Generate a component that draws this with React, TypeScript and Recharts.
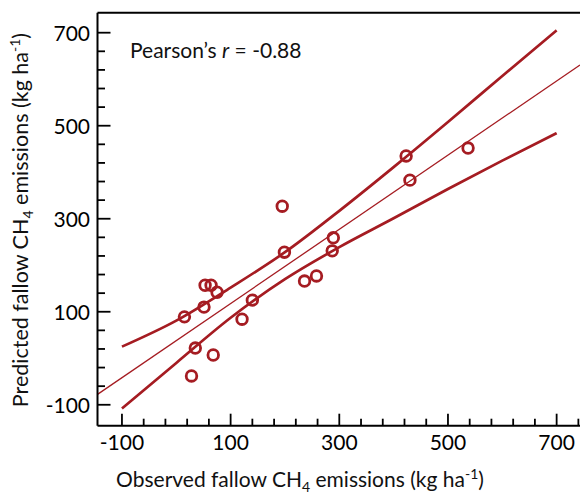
import React from "react";
import {
  ComposedChart,
  Scatter,
  Line,
  XAxis,
  YAxis,
  ReferenceLine,
} from "recharts";

// observed vs predicted fallow CH4 emissions
const observed = [15, 35, 28, 51, 53, 64, 68, 75, 121, 140, 195, 199, 236, 258, 287, 289, 423, 430, 537];
const predicted = [89, 22, -38, 110, 157, 157, 7, 142, 84, 125, 327, 228, 166, 177, 231, 259, 435, 383, 452];

// confidence band
const bandX = [-100, 0, 100, 200, 300, 400, 500, 600, 700];
const bandUpper = [25, 81, 152, 228, 317, 411, 508, 607, 705];
const bandLower = [-108, -10, 87, 170, 239, 301, 364, 425, 484];

// regression line at the plot edges
const fitX = [-145, 743];
const fitY = [-77.6, 630.5];

const majorTicks = [-100, 100, 300, 500, 700];
const xTicks = [-100, -60, -20, 20, 60, 100, 140, 180, 220, 260, 300, 340, 380, 420, 460, 500, 540, 580, 620, 660, 700, 740];
const yTicks = [-100, -60, -20, 20, 60, 100, 140, 180, 220, 260, 300, 340, 380, 420, 460, 500, 540, 580, 620, 660, 700];

const points = observed.map((x, i) => ({ x, y: predicted[i] }));
const upper = bandX.map((x, i) => ({ x, y: bandUpper[i] }));
const lower = bandX.map((x, i) => ({ x, y: bandLower[i] }));
const fit = fitX.map((x, i) => ({ x, y: fitY[i] }));

const RED = "#a51c22";
const FONT = "Lato, 'Open Sans', sans-serif";

const XTick = (props: any) => {
  const { x, y, payload } = props;
  const major = majorTicks.includes(payload.value);
  return (
    <g>
      <line x1={x} x2={x} y1={y} y2={y - (major ? 12 : 7)} stroke="#000" strokeWidth={1.8} />
      {major && (
        <text x={x} y={y + 24.5} textAnchor="middle" fontSize={21} fontFamily={FONT} fill="#000">
          {payload.value}
        </text>
      )}
    </g>
  );
};

const YTick = (props: any) => {
  const { x, y, payload } = props;
  const major = majorTicks.includes(payload.value);
  return (
    <g>
      <line x1={x} x2={x + (major ? 13 : 7.5)} y1={y} y2={y} stroke="#000" strokeWidth={1.8} />
      {major && (
        <text x={x - 7.5} y={y + 8} textAnchor="end" fontSize={21} fontFamily={FONT} fill="#000">
          {payload.value}
        </text>
      )}
    </g>
  );
};

const XTitle = () => (
  <text x={300} y={487} textAnchor="middle" fontSize={21} fontFamily={FONT} fill="#111">
    Observed fallow CH<tspan dy={5} fontSize={14}>4</tspan>
    <tspan dy={-5}> emissions (kg ha</tspan>
    <tspan dy={-8} fontSize={14}>-1</tspan>
    <tspan dy={8}>)</tspan>
  </text>
);

const YTitle = () => (
  <text transform="translate(28,220) rotate(-90)" textAnchor="middle" fontSize={21.5} fontFamily={FONT} fill="#111">
    Predicted fallow CH<tspan dy={5} fontSize={14}>4</tspan>
    <tspan dy={-5}> emissions (kg ha</tspan>
    <tspan dy={-8} fontSize={14}>-1</tspan>
    <tspan dy={8}>)</tspan>
  </text>
);

const Ring = (props: any) => (
  <circle cx={props.cx} cy={props.cy} r={5.3} fill="none" stroke={RED} strokeWidth={2.8} />
);

export default function App() {
  return (
    <div style={{ position: "absolute", left: 0, top: 0, width: 580, height: 494, background: "#fff" }}>
      <ComposedChart
        width={580}
        height={494}
        margin={{ top: 12.7, right: 0, bottom: 0, left: 0 }}
      >
        <XAxis
          type="number"
          dataKey="x"
          domain={[-145, 743]}
          allowDataOverflow
          ticks={xTicks}
          interval={0}
          tickSize={0}
          tickMargin={0}
          tick={<XTick />}
          axisLine={{ stroke: "#000", strokeWidth: 2 }}
          height={68.3}
          label={<XTitle />}
        />
        <YAxis
          type="number"
          dataKey="y"
          domain={[-145, 743]}
          allowDataOverflow
          ticks={yTicks}
          interval={0}
          tickSize={0}
          tickMargin={0}
          tick={<YTick />}
          axisLine={{ stroke: "#000", strokeWidth: 2 }}
          width={97.5}
          label={<YTitle />}
        />
        <ReferenceLine y={743} stroke="#000" strokeWidth={2} />
        <Line data={fit} dataKey="y" type="linear" stroke={RED} strokeWidth={1.3} dot={false} isAnimationActive={false} />
        <Line data={upper} dataKey="y" type="monotone" stroke={RED} strokeWidth={2.7} dot={false} isAnimationActive={false} />
        <Line data={lower} dataKey="y" type="monotone" stroke={RED} strokeWidth={2.7} dot={false} isAnimationActive={false} />
        <Scatter data={points} dataKey="y" shape={<Ring />} isAnimationActive={false} />
      </ComposedChart>
      <div
        style={{
          position: "absolute",
          left: 130,
          top: 37,
          fontFamily: FONT,
          fontSize: 21,
          lineHeight: "26px",
          color: "#111",
          whiteSpace: "nowrap",
        }}
      >
        Pearson’s <i>r</i> = -0.88
      </div>
    </div>
  );
}
